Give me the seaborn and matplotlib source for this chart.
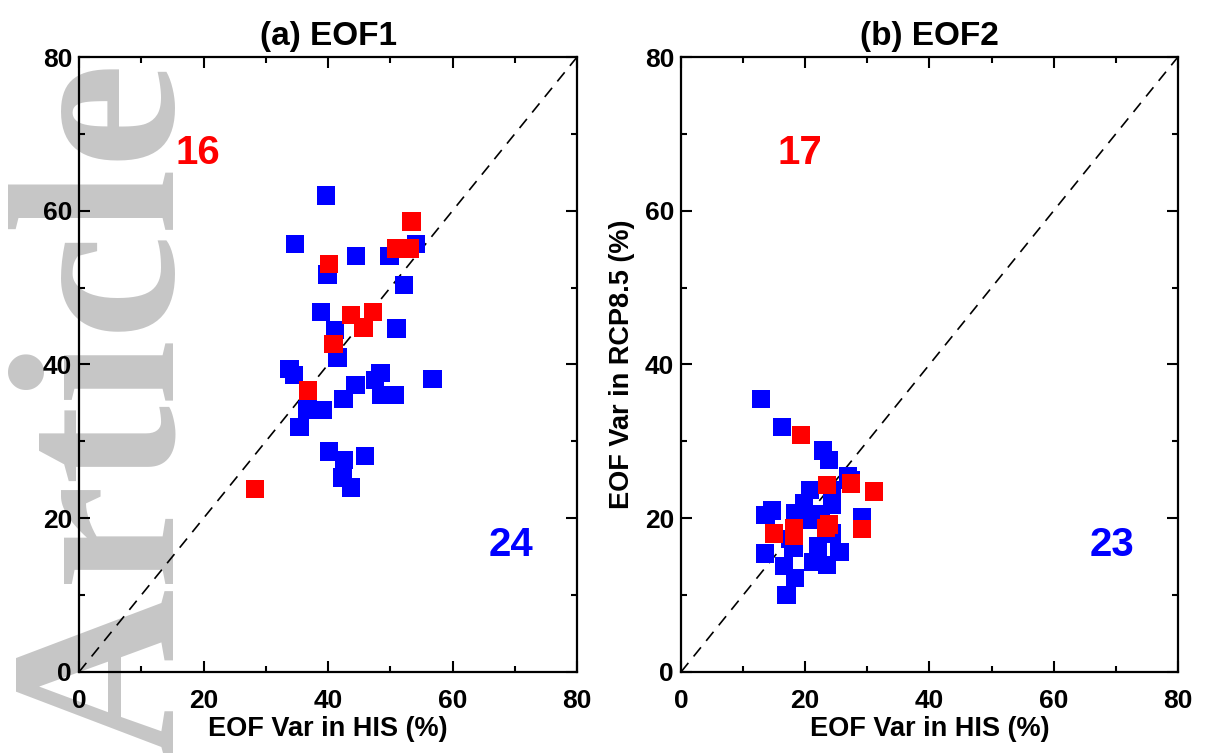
import numpy as np
import pandas as pd
import matplotlib
matplotlib.use("Agg")
import matplotlib.pyplot as plt
import seaborn as sns

# ==========================
# DATA
# ==========================

eof1_blue_his = [39.7, 34.7, 44.5, 49.9, 54.1, 39.9, 52.2, 38.9, 41.1, 51.0,
                 41.5, 33.8, 34.5, 44.4, 48.4, 47.5, 56.8, 42.5, 48.6, 50.8,
                 36.6, 39.1, 35.4, 40.2, 42.6, 45.9, 42.3, 43.7, 36.8]
eof1_blue_rcp = [62.0, 55.7, 54.1, 54.1, 55.7, 51.7, 50.3, 46.8, 44.5, 44.7,
                 40.9, 39.4, 38.6, 37.3, 38.9, 38.0, 38.1, 35.5, 36.0, 36.0,
                 34.1, 34.1, 31.9, 28.7, 27.6, 28.1, 25.3, 24.0, 36.4]

eof1_red_his = [53.4, 50.9, 53.2, 40.2, 43.7, 47.2, 45.7, 40.9, 36.8, 28.3]
eof1_red_rcp = [58.6, 55.1, 55.1, 53.1, 46.4, 46.8, 44.8, 42.7, 36.6, 23.8]

eof2_blue_his = [12.9, 16.3, 22.9, 23.8, 27.3, 14.6, 13.6, 20.8, 19.8, 18.4,
                 24.3, 29.1, 21.0, 24.3, 13.5, 18.1, 22.1, 25.5, 16.6, 21.3,
                 23.5, 18.4, 17.0, 24.3, 17.5, 26.9, 22.5]
eof2_blue_rcp = [35.5, 31.9, 28.8, 27.6, 25.0, 21.0, 20.4, 23.7, 21.9, 20.6,
                 21.7, 20.2, 19.8, 18.0, 15.4, 16.1, 16.3, 15.6, 13.8, 14.3,
                 13.9, 12.2, 10.0, 23.7, 17.3, 25.5, 20.5]

eof2_red_his = [19.3, 23.5, 27.4, 31.1, 15.0, 18.2, 18.2, 23.8, 23.3, 29.1]
eof2_red_rcp = [30.8, 24.3, 24.5, 23.5, 18.0, 18.7, 17.7, 19.2, 18.7, 18.6]

panel_titles = ["(a) EOF1", "(b) EOF2"]
count_above = ["16", "17"]
count_below = ["24", "23"]

# ==========================
# STYLE
# ==========================

sns.set_style("ticks")
plt.rcParams['font.family'] = ['Liberation Sans', 'DejaVu Sans']
plt.rcParams['font.weight'] = 'bold'
plt.rcParams['axes.labelweight'] = 'bold'
plt.rcParams['axes.titleweight'] = 'bold'
plt.rcParams['text.color'] = 'black'
plt.rcParams['axes.labelcolor'] = 'black'
plt.rcParams['xtick.color'] = 'black'
plt.rcParams['ytick.color'] = 'black'

fig = plt.figure(figsize=(12.06, 7.53), dpi=100)

# watermark behind the panels
fig.text(0.142, -0.006, "Article", rotation=90, rotation_mode='anchor',
         ha='left', va='baseline', fontsize=171, color='#c6c6c6',
         family=['Liberation Serif', 'DejaVu Serif'], fontweight='bold',
         zorder=-5)

ax1 = fig.add_axes([0.0655, 0.1076, 0.413, 0.8167])
ax2 = fig.add_axes([0.5647, 0.1076, 0.412, 0.8167])

panels = [
    (ax1, eof1_blue_his, eof1_blue_rcp, eof1_red_his, eof1_red_rcp),
    (ax2, eof2_blue_his, eof2_blue_rcp, eof2_red_his, eof2_red_rcp),
]

for i, (ax, bx, by, rx, ry) in enumerate(panels):
    ax.set_facecolor('none')

    blue = pd.DataFrame({'his': bx, 'rcp': by})
    red = pd.DataFrame({'his': rx, 'rcp': ry})

    ax.plot([0, 80], [0, 80], color='black', linestyle=(0, (7, 5)),
            linewidth=1.2, zorder=1)

    sns.scatterplot(data=blue, x='his', y='rcp', ax=ax, marker='s', s=175,
                    color='#0000ff', edgecolor='none', linewidth=0, zorder=2)
    sns.scatterplot(data=red, x='his', y='rcp', ax=ax, marker='s', s=175,
                    color='#ff0000', edgecolor='none', linewidth=0, zorder=3)

    ax.text(19.1, 67.5, count_above[i], color='#ff0000', fontsize=29,
            fontweight='bold', ha='center', va='center')
    ax.text(69.4, 16.5, count_below[i], color='#0000ff', fontsize=29,
            fontweight='bold', ha='center', va='center')

    ax.set_xlim(0, 80)
    ax.set_ylim(0, 80)
    ax.set_xticks([0, 20, 40, 60, 80])
    ax.set_yticks([0, 20, 40, 60, 80])
    ax.set_xticks(np.arange(10, 80, 20), minor=True)
    ax.set_yticks(np.arange(10, 80, 20), minor=True)
    ax.tick_params(which='both', direction='in', top=True, right=True,
                   width=1.5, color='black')
    ax.tick_params(which='major', length=8, labelsize=19, pad=5)
    ax.tick_params(which='minor', length=4.5)
    ax.tick_params(axis='x', which='major', pad=12.5)
    for sp in ax.spines.values():
        sp.set_linewidth(1.6)
        sp.set_color('black')

    ax.set_title(panel_titles[i], fontsize=24, fontweight='bold', pad=9)
    ax.set_xlabel("EOF Var in HIS (%)", fontsize=19.5, fontweight='bold',
                  labelpad=2)
    ax.set_ylabel("")

ax2.set_ylabel("EOF Var in RCP8.5 (%)", fontsize=19.5, fontweight='bold',
               labelpad=7)

fig.savefig("out.png", dpi=100)
